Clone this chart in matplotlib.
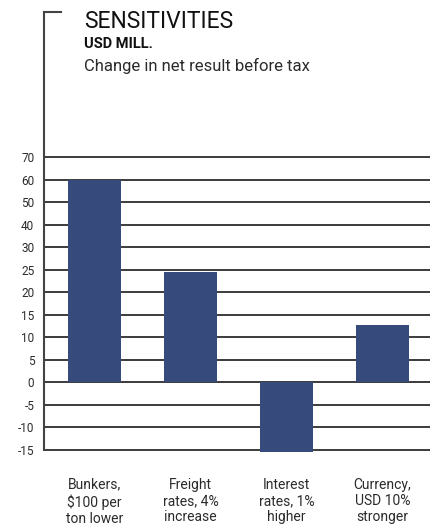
import numpy as np
import matplotlib
matplotlib.use("Agg")
import matplotlib.pyplot as plt

plt.rcParams['font.family'] = ['Roboto', 'DejaVu Sans']

categories = ["Bunkers,\n$100 per\nton lower", "Freight\nrates, 4%\nincrease",
              "Interest\nrates, 1%\nhigher", "Currency,\nUSD 10%\nstronger"]
values = [60, 24.5, -15.5, 12.7]
tick_values = [-15, -10, -5, 0, 5, 10, 15, 20, 25, 30, 40, 50, 60, 70]

bar_color = "#364a7c"
text_color = "#2b2b2b"


# y axis uses steps of 5 up to 30, then steps of 10
def forward(v):
    v = np.asarray(v, dtype=float)
    return np.where(v <= 30, v / 5.0, 6 + (v - 30) / 10.0)


def inverse(i):
    i = np.asarray(i, dtype=float)
    return np.where(i <= 6, i * 5.0, 30 + (i - 6) * 10.0)


fig = plt.figure(figsize=(4.33, 5.30), dpi=100)
ax = fig.add_axes([44 / 433, (530 - 456.8) / 530, 386 / 433, 444.8 / 530])
ax.set_yscale('function', functions=(forward, inverse))

x = np.arange(len(categories))
ax.bar(x, values, width=0.55, color=bar_color, zorder=3)

ax.set_xlim(-0.526, 3.495)
ax.set_ylim(-16.5, 134.3)

ax.set_yticks(tick_values)
ax.set_yticklabels([str(t) for t in tick_values])
ax.yaxis.grid(True, color="#1a1a1a", linewidth=1.2)
ax.set_axisbelow(True)
ax.tick_params(axis='y', length=0, pad=7, labelsize=8.5, labelcolor=text_color)

ax.set_xticks(x)
ax.set_xticklabels(categories, linespacing=1.2)
ax.tick_params(axis='x', length=0, pad=15, labelsize=10, labelcolor=text_color)

for side in ['top', 'right', 'bottom']:
    ax.spines[side].set_visible(False)
ax.spines['left'].set_color("#444444")
ax.spines['left'].set_linewidth(1.5)
ax.spines['left'].set_bounds(-15, 134.3)

# small hook at the top of the axis line
ax.plot([0, 0.044], [1, 1], transform=ax.transAxes, color="#444444",
        linewidth=1.5, clip_on=False, solid_capstyle='projecting')

fig.text(84 / 433, 1 - 28 / 530, "SENSITIVITIES", fontsize=16.5, color="#111111",
         va='baseline', ha='left')
fig.text(84 / 433, 1 - 48 / 530, "USD MILL.", fontsize=10.5, fontweight='bold',
         color="#111111", va='baseline', ha='left')
fig.text(84 / 433, 1 - 71 / 530, "Change in net result before tax", fontsize=12,
         color=text_color, va='baseline', ha='left')

fig.savefig("out.png", dpi=100)
